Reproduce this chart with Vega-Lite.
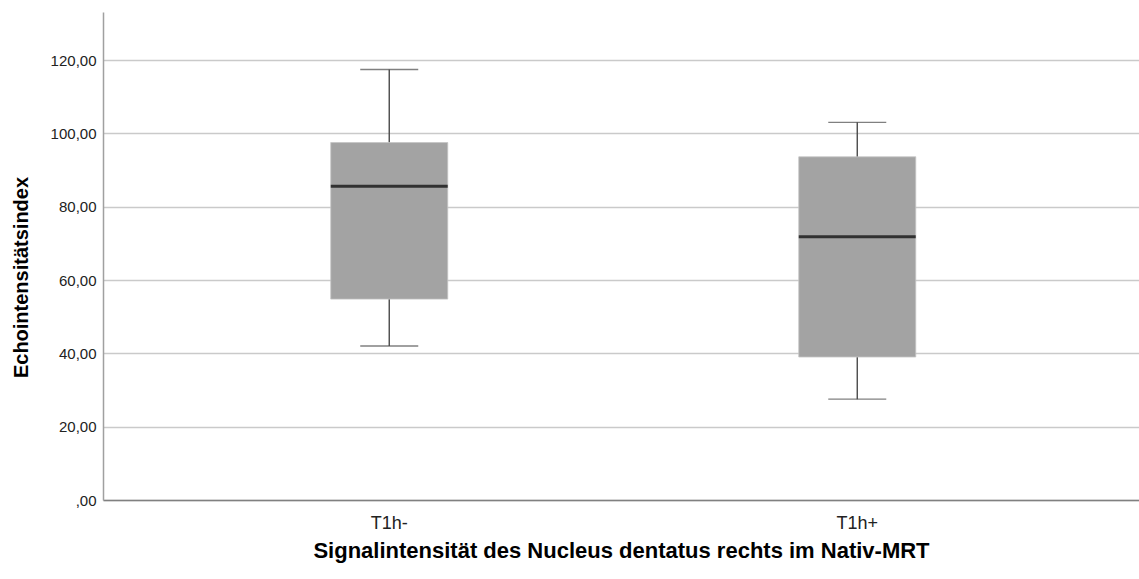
{
  "$schema": "https://vega.github.io/schema/vega-lite/v6.json",
  "autosize": "none",
  "width": 1036,
  "height": 488,
  "padding": {"left": 103, "top": 12, "right": 0, "bottom": 79},
  "background": "white",
  "config": {
    "view": {"stroke": null},
    "font": "Liberation Sans"
  },
  "data": {
    "values": [
      {"group": "T1h-", "low": 42.0, "q1": 54.8, "median": 85.6, "q3": 97.5, "high": 117.4},
      {"group": "T1h+", "low": 27.5, "q1": 39.0, "median": 71.8, "q3": 93.6, "high": 103.0}
    ]
  },
  "encoding": {
    "x": {
      "field": "group",
      "type": "nominal",
      "sort": ["T1h-", "T1h+"],
      "scale": {"paddingInner": 0.75, "paddingOuter": 0.4818, "align": 0.505},
      "axis": {
        "title": "Signalintensität des Nucleus dentatus rechts im Nativ-MRT",
        "titleFont": "Liberation Sans",
        "titleFontSize": 22,
        "titleFontWeight": "bold",
        "titleColor": "#000000",
        "titlePadding": 8,
        "labelAngle": 0,
        "labelFont": "Liberation Sans",
        "labelFontSize": 18,
        "labelColor": "#222222",
        "labelPadding": 14,
        "ticks": false,
        "domainColor": "#808080",
        "domainWidth": 1.5,
        "grid": false
      }
    }
  },
  "layer": [
    {
      "mark": {"type": "rule", "color": "#4a4a4a", "strokeWidth": 1.4},
      "encoding": {
        "y": {
          "field": "low",
          "type": "quantitative",
          "scale": {"domain": [0, 133.1], "nice": false, "zero": true},
          "axis": {
            "title": "Echointensitätsindex",
            "titleFont": "Liberation Sans",
            "titleFontSize": 20,
            "titleFontWeight": "bold",
            "titleColor": "#000000",
            "titlePadding": 19,
            "titleY": 265,
            "values": [0, 20, 40, 60, 80, 100, 120],
            "labelExpr": "datum.value == 0 ? ',00' : replace(format(datum.value, '.2f'), '.', ',')",
            "labelFont": "Liberation Sans",
            "labelFontSize": 15,
            "labelColor": "#222222",
            "labelPadding": 7,
            "ticks": false,
            "domainColor": "#a0a0a0",
            "domainWidth": 1.5,
            "grid": true,
            "gridColor": "#cacaca",
            "gridWidth": 1.5
          }
        },
        "y2": {"field": "high"}
      }
    },
    {
      "mark": {"type": "bar", "fill": "#a3a3a3", "stroke": "#c4c4c4", "strokeWidth": 0.8},
      "encoding": {
        "y": {"field": "q1", "type": "quantitative"},
        "y2": {"field": "q3"}
      }
    },
    {
      "mark": {"type": "tick", "color": "#000000", "thickness": 3, "size": 117},
      "encoding": {"y": {"field": "median", "type": "quantitative"}}
    },
    {
      "mark": {"type": "tick", "color": "#4a4a4a", "thickness": 1.4, "size": 58},
      "encoding": {"y": {"field": "low", "type": "quantitative"}}
    },
    {
      "mark": {"type": "tick", "color": "#4a4a4a", "thickness": 1.4, "size": 58},
      "encoding": {"y": {"field": "high", "type": "quantitative"}}
    }
  ]
}
